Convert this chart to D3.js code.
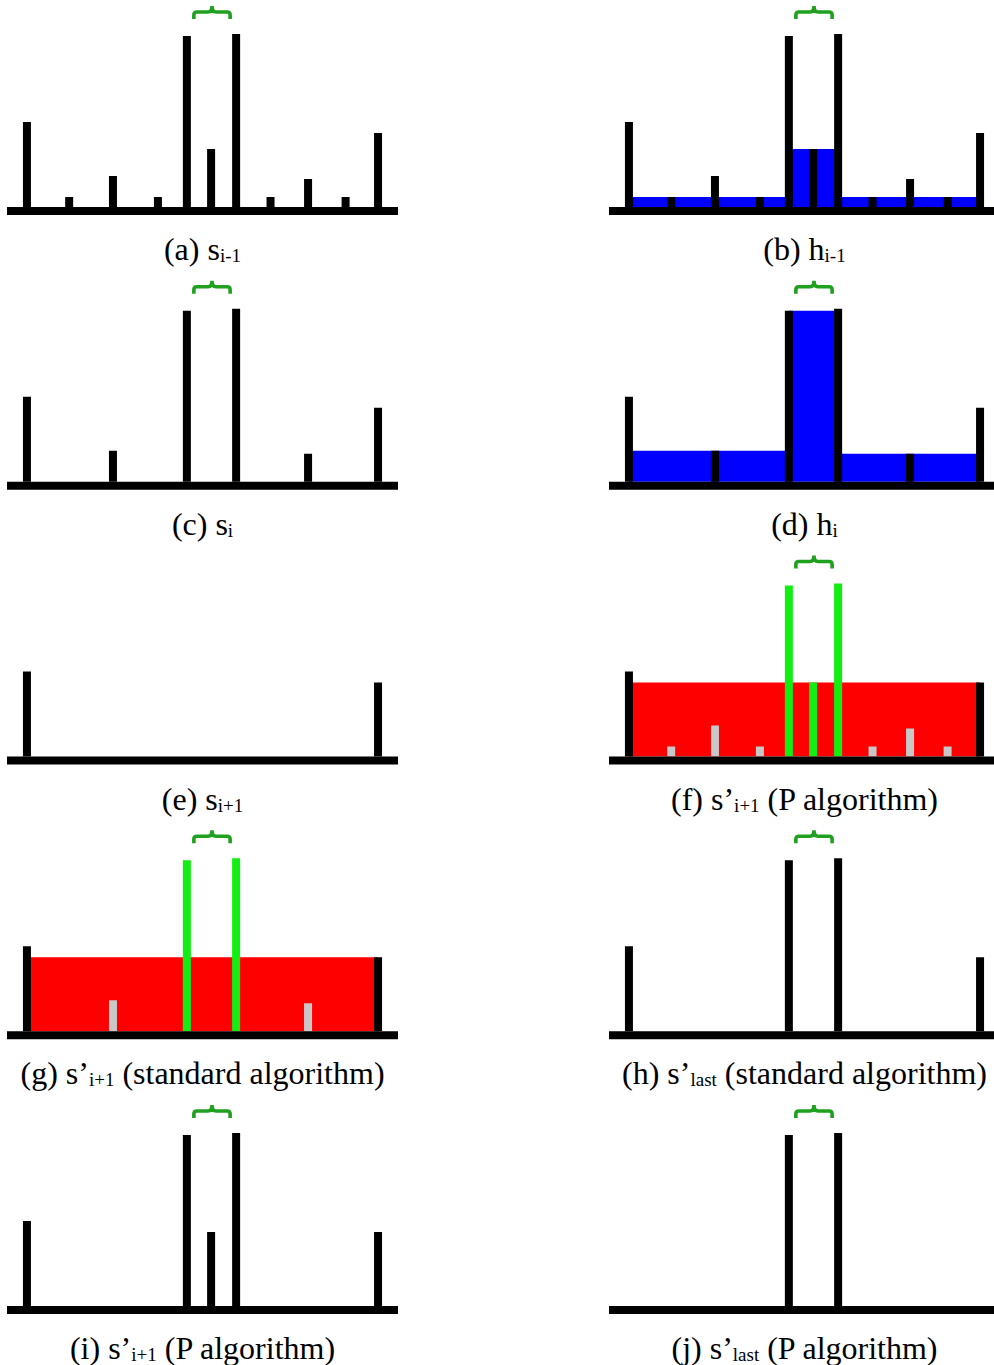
<!DOCTYPE html>
<html>
<head>
<meta charset="utf-8">
<script src="https://cdn.jsdelivr.net/npm/d3@7"></script>
<style>
  body { margin: 0; background: #fff; }
  text { font-family: "Liberation Serif", "Times New Roman", serif; }
</style>
</head>
<body>
<svg id="chart" width="994" height="1365"></svg>
<script>
// bar positions along the ground (0..100) and heights of s(i-1)
const barPos = [5.1, 15.9, 27.1, 38.6, 46, 52.2, 58.6, 67.4, 77, 86.6, 94.9];
const barHeight = [85, 10, 31, 10, 171, 58, 173, 10, 28, 10, 74];
const raisedHeight = 74;   // middle bar after the P algorithm

// panel bars: [bar index, role]; role k = kept, g = removed (grey), p = peak (green)
const barsA = [[0,'k'],[1,'k'],[2,'k'],[3,'k'],[4,'k'],[5,'k'],[6,'k'],[7,'k'],[8,'k'],[9,'k'],[10,'k']];
const barsC = [[0,'k'],[2,'k'],[4,'k'],[6,'k'],[8,'k'],[10,'k']];
const barsE = [[0,'k'],[10,'k']];
const barsF = [[0,'k'],[1,'g'],[2,'g'],[3,'g'],[4,'p'],[5,'p'],[6,'p'],[7,'g'],[8,'g'],[9,'g'],[10,'k']];
const barsG = [[0,'k'],[2,'g'],[4,'p'],[6,'p'],[8,'g'],[10,'k']];
const barsH = [[0,'k'],[4,'k'],[6,'k'],[10,'k']];
const barsI = [[0,'k'],[4,'k'],[5,'k'],[6,'k'],[10,'k']];
const barsJ = [[4,'k'],[6,'k']];

// water levels: [from bar, to bar, level]
const fillB = [[0, 4, 10], [4, 6, 58], [6, 10, 10]];
const fillD = [[0, 4, 31], [4, 6, 171], [6, 10, 28]];
const fillF = [[0, 10, 74]];
const fillG = [[0, 10, 74]];

const labels = [
  { tag: '(a)', sym: 's',  sub: 'i-1',  tail: '' },
  { tag: '(b)', sym: 'h',  sub: 'i-1',  tail: '' },
  { tag: '(c)', sym: 's',  sub: 'i',    tail: '' },
  { tag: '(d)', sym: 'h',  sub: 'i',    tail: '' },
  { tag: '(e)', sym: 's',  sub: 'i+1',  tail: '' },
  { tag: '(f)', sym: 's\u2019', sub: 'i+1',  tail: ' (P algorithm)' },
  { tag: '(g)', sym: 's\u2019', sub: 'i+1',  tail: ' (standard algorithm)' },
  { tag: '(h)', sym: 's\u2019', sub: 'last', tail: ' (standard algorithm)' },
  { tag: '(i)', sym: 's\u2019', sub: 'i+1',  tail: ' (P algorithm)' },
  { tag: '(j)', sym: 's\u2019', sub: 'last', tail: ' (P algorithm)' }
];

const panels = [
  { bars: barsA, fill: [],    fillRole: null, brace: true,  raised: false },
  { bars: barsA, fill: fillB, fillRole: 'h',  brace: true,  raised: false },
  { bars: barsC, fill: [],    fillRole: null, brace: true,  raised: false },
  { bars: barsC, fill: fillD, fillRole: 'h',  brace: true,  raised: false },
  { bars: barsE, fill: [],    fillRole: null, brace: false, raised: false },
  { bars: barsF, fill: fillF, fillRole: 's',  brace: true,  raised: true },
  { bars: barsG, fill: fillG, fillRole: 's',  brace: true,  raised: false },
  { bars: barsH, fill: [],    fillRole: null, brace: true,  raised: false },
  { bars: barsI, fill: [],    fillRole: null, brace: true,  raised: true },
  { bars: barsJ, fill: [],    fillRole: null, brace: true,  raised: false }
];

const BAR_W = 8;
const GROUND_H = 8;
const ROW_STEP = 274.75;
const FIRST_GROUND = 207;
const COL_X = [0, 602];

const roleColor = { k: '#000', g: '#c8c8c8', p: '#11ee11' };
const fillColor = { h: '#0000ff', s: '#ff0000' };

const svg = d3.select('#chart');
const x = d3.scaleLinear().domain([0, 100]).range([7, 398]);

panels.forEach((panel, i) => {
  const col = i % 2, row = Math.floor(i / 2);
  const ground = FIRST_GROUND + row * ROW_STEP;
  const y = d3.scaleLinear().domain([0, 180]).range([ground, ground - 180]);
  const g = svg.append('g').attr('transform', `translate(${COL_X[col]},0)`);

  // water / fill levels
  g.selectAll('rect.fill')
    .data(panel.fill)
    .enter()
    .append('rect')
    .attr('class', 'fill')
    .attr('x', d => x(barPos[d[0]]))
    .attr('width', d => x(barPos[d[1]]) - x(barPos[d[0]]))
    .attr('y', d => y(d[2]))
    .attr('height', d => y(0) - y(d[2]))
    .attr('fill', fillColor[panel.fillRole]);

  // bars
  const heightOf = d => (panel.raised && d[0] === 5) ? raisedHeight : barHeight[d[0]];
  g.selectAll('rect.bar')
    .data(panel.bars)
    .enter()
    .append('rect')
    .attr('class', 'bar')
    .attr('x', d => x(barPos[d[0]]) - BAR_W / 2)
    .attr('width', BAR_W)
    .attr('y', d => y(heightOf(d)))
    .attr('height', d => y(0) - y(heightOf(d)))
    .attr('fill', d => roleColor[d[1]]);

  // ground line
  g.append('rect')
    .attr('x', x(0))
    .attr('width', x(100) - x(0))
    .attr('y', ground)
    .attr('height', GROUND_H)
    .attr('fill', '#000');

  // curly brace between the two peaks
  if (panel.brace) {
    const l = x(barPos[4]) + 7, r = x(barPos[6]) - 6, m = (l + r) / 2;
    const top = y(201), mid = y(195), end = y(188);
    g.append('path')
      .attr('d', `M${l},${end} L${l},${mid + 3} Q${l},${mid} ${l + 3},${mid} L${m - 4},${mid}` +
        ` Q${m},${mid} ${m},${top} Q${m},${mid} ${m + 4},${mid} L${r - 3},${mid}` +
        ` Q${r},${mid} ${r},${mid + 3} L${r},${end}`)
      .attr('fill', 'none')
      .attr('stroke', '#1fa01f')
      .attr('stroke-width', 3.6);
  }

  // caption
  const lab = labels[i];
  const t = g.append('text')
    .attr('x', (x(0) + x(100)) / 2)
    .attr('y', ground + 53)
    .attr('text-anchor', 'middle')
    .attr('font-size', 32)
    .attr('fill', '#000');
  t.append('tspan').text(`${lab.tag} ${lab.sym}`);
  t.append('tspan').attr('font-size', 19).attr('dy', 2).text(lab.sub);
  t.append('tspan').attr('dy', -2).text(lab.tail);
});
</script>
</body>
</html>
